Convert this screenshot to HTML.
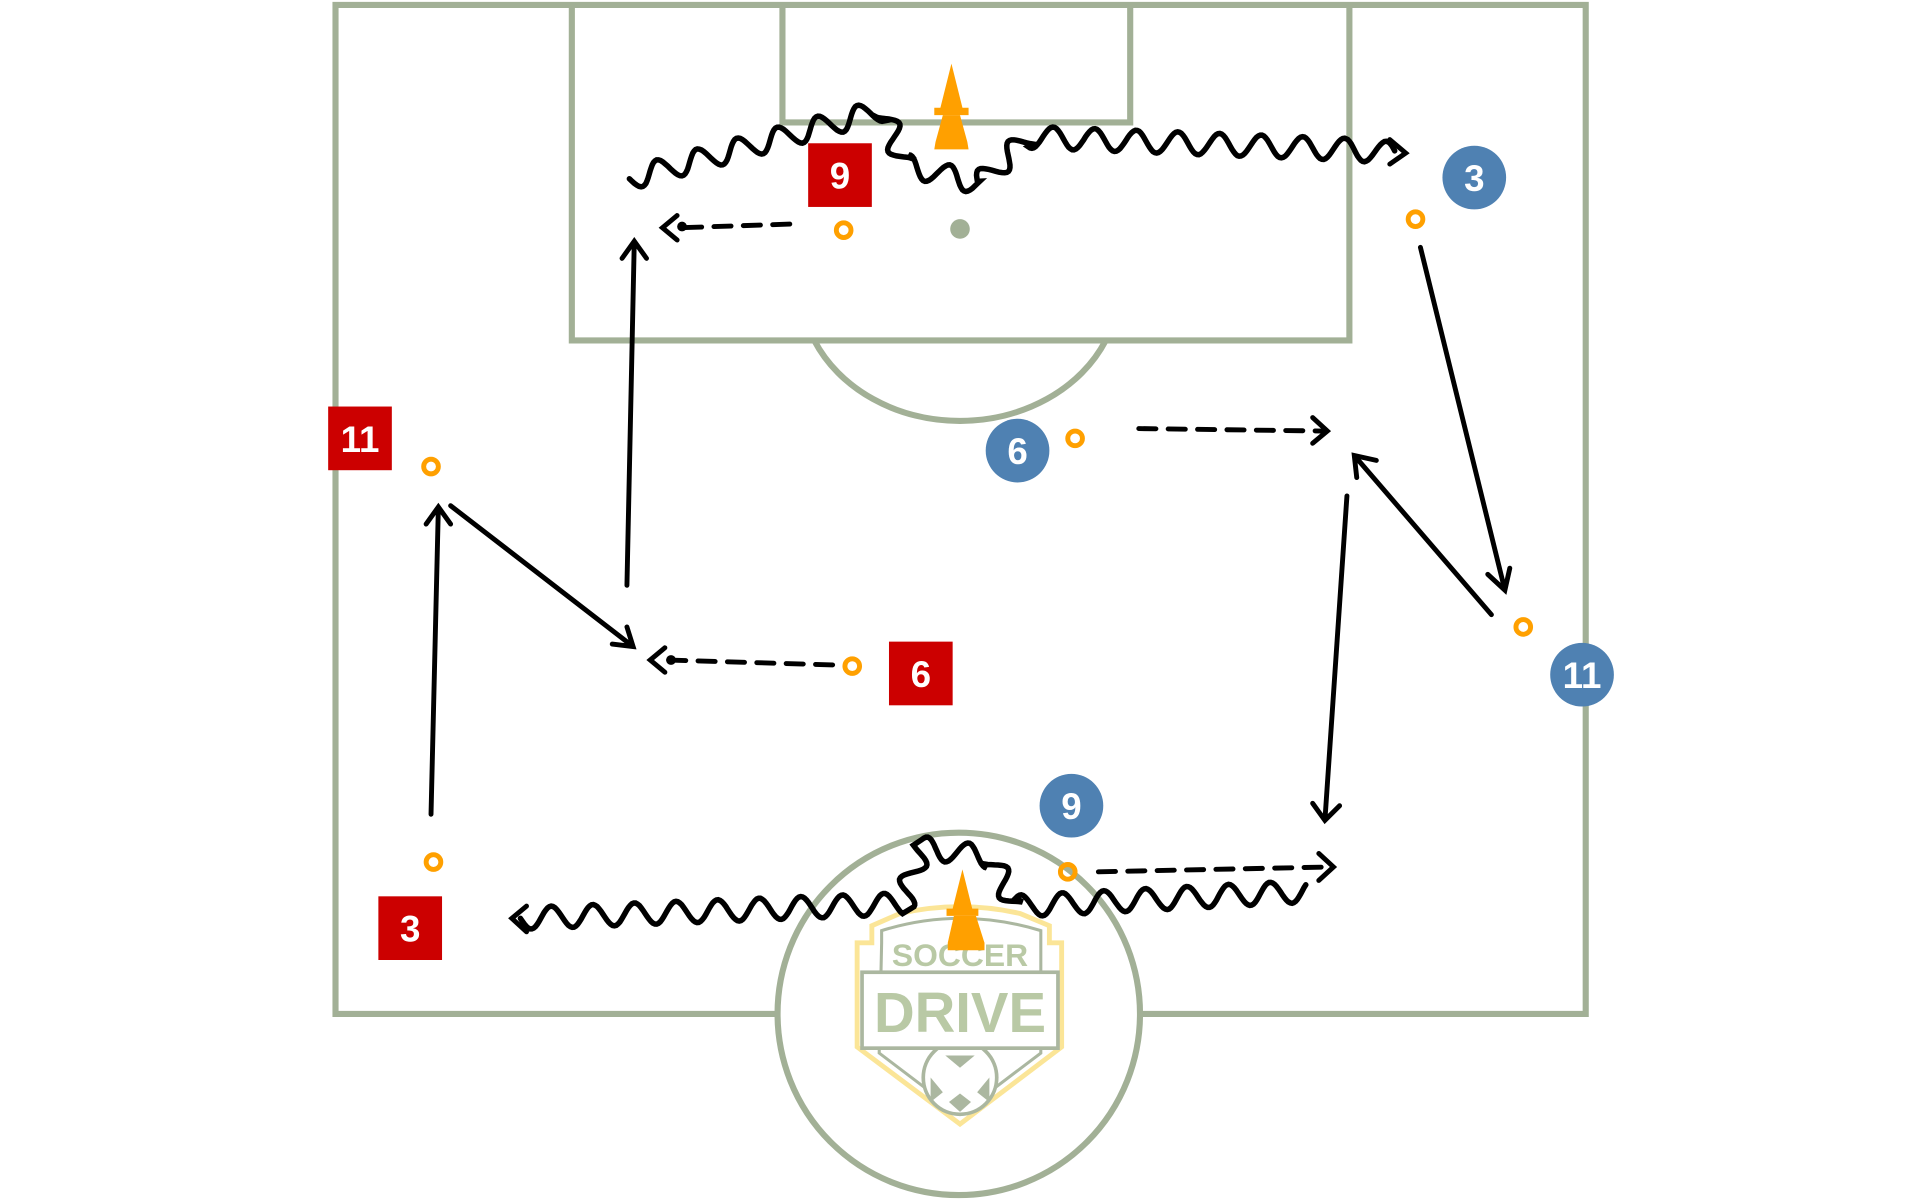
<!DOCTYPE html>
<html><head><meta charset="utf-8"><style>
html,body{margin:0;padding:0;background:#fff;width:1920px;height:1200px;overflow:hidden}
svg{display:block}
text{font-family:"Liberation Sans","DejaVu Sans",sans-serif;font-weight:bold}
</style></head><body>
<svg id="s" width="1920" height="1200" viewBox="0 0 1568 980" xmlns="http://www.w3.org/2000/svg">
<g fill="none" stroke="#a2b096" stroke-width="5">
<path d="M635 828 H274 V4 H1295 V828 H931"/>
<path d="M467 4 V278 H1102 V4"/>
<path d="M639 4 V100 H923 V4"/>
<path d="M665 278 A130 110 0 0 0 903 278"/>
<circle cx="783" cy="828" r="148"/>
</g>
<circle cx="784" cy="187" r="8" fill="#a2b096"/>
<!-- logo -->
<g opacity="0.9">
<path d="M712 770 L712 756 L735 746 Q784 735 833 746 L857 756 L857 770 L867 770 L867 855 L784 918 L700 855 L700 770 Z" fill="none" stroke="#fbe38c" stroke-width="4"/>
<path d="M720 770 L720 760 Q784 740 850 760 L850 790 L850 860 L784 910 L718 860 Z" fill="none" stroke="#a2b096" stroke-width="2.5"/>
<circle cx="784" cy="880" r="30" fill="#fff" stroke="#a2b096" stroke-width="3"/>
<path d="M772 862 L784 872 L796 862 Z M760 880 L770 892 L760 900 Z M808 880 L798 892 L808 900 Z M775 900 L784 893 L793 900 L784 908Z" fill="#a2b096"/>
<rect x="704" y="794" width="160" height="62" fill="#fff" stroke="#a2b096" stroke-width="3"/>
<text x="784" y="789" text-anchor="middle" font-size="26" fill="#b2c49c">SOCCER</text>
<text x="784" y="843" text-anchor="middle" font-size="46" fill="#b2c49c">DRIVE</text>
</g>
<g id="waves" fill="none" stroke="#000" stroke-width="4.5" stroke-linecap="round"></g>
<g fill="none" stroke="#000" stroke-width="4" stroke-linecap="round">
<path d="M1135 114 L1148 125 L1135 134"/>
<path d="M430 740 L418 750 L430 761"/>
<path d="M352 665 L358 414 M348 428 L358 414 L368 428"/>
<path d="M368 413 L517 528 M500 526 L517 528 L512 512"/>
<path d="M512 478 L518 197 M508 211 L518 197 L528 211"/>
<path d="M1160 202 L1229 482 M1215 469 L1229 482 L1233 464"/>
<path d="M1218 502 L1106 372 M1108 390 L1106 372 L1124 376"/>
<path d="M1100 405 L1082 670 M1072 656 L1082 670 L1094 658"/>
<path d="M645 183 L555 186" stroke-dasharray="14 10"/>
<path d="M553 176 L541 186 L553 196"/><circle cx="557" cy="185" r="2" fill="#000"/>
<path d="M680 543 L545 539" stroke-dasharray="14 10"/>
<path d="M543 529 L531 539 L543 549"/><circle cx="548" cy="539" r="2" fill="#000"/>
<path d="M930 350 L1080 352" stroke-dasharray="14 10"/>
<path d="M1072 341 L1084 352 L1072 362"/>
<path d="M897 712 L1087 708" stroke-dasharray="14 10"/>
<path d="M1077 697 L1089 708 L1077 719"/>
</g>
<g fill="#ffa000">
<path d="M777 52 L768 88 L763 88 L763 94 L786 94 L791 94 L791 88 L786 88 Z"/>
<path d="M770 94 L764 116 L763 122 L791 122 L790 116 L784 94Z"/>
<path d="M786 710 L778 742 L773 742 L773 748 L799 748 L799 742 L794 742 Z"/>
<path d="M779 748 L774 770 L774 776 L804 776 L804 770 L797 748Z"/>
</g>
<g fill="none" stroke="#ffa000" stroke-width="4">
<circle cx="689" cy="188" r="6"/><circle cx="352" cy="381" r="6"/><circle cx="696" cy="544" r="6"/>
<circle cx="354" cy="704" r="6"/><circle cx="1156" cy="179" r="6"/><circle cx="878" cy="358" r="6"/>
<circle cx="1244" cy="512" r="6"/><circle cx="872" cy="712" r="6"/>
</g>
<g font-size="30" text-anchor="middle" fill="#fff">
<rect x="660" y="117" width="52" height="52" fill="#cc0000"/><text x="686" y="154">9</text>
<rect x="268" y="332" width="52" height="52" fill="#cc0000"/><text x="294" y="369">11</text>
<rect x="726" y="524" width="52" height="52" fill="#cc0000"/><text x="752" y="561">6</text>
<rect x="309" y="732" width="52" height="52" fill="#cc0000"/><text x="335" y="769">3</text>
<circle cx="1204" cy="145" r="26" fill="#4f81b2"/><text x="1204" y="156">3</text>
<circle cx="831" cy="368" r="26" fill="#4f81b2"/><text x="831" y="379">6</text>
<circle cx="1292" cy="551" r="26" fill="#4f81b2"/><text x="1292" y="562">11</text>
<circle cx="875" cy="658" r="26" fill="#4f81b2"/><text x="875" y="669">9</text>
</g>
</svg>
<script>
function wave(pts,amp,wl){
 var d="",first=true,phase=0;
 for(var i=0;i<pts.length-1;i++){
  var a=pts[i],b=pts[i+1],dx=b[0]-a[0],dy=b[1]-a[1],L=Math.hypot(dx,dy),ux=dx/L,uy=dy/L,nx=-uy,ny=ux;
  for(var t=0;t<=L;t+=1.5){
   var o=amp*Math.sin(phase+t/wl*2*Math.PI);
   var x=a[0]+ux*t+nx*o,y=a[1]+uy*t+ny*o;
   d+=(first?"M":"L")+x.toFixed(1)+" "+y.toFixed(1);first=false;
  }
  phase+=L/wl*2*Math.PI;
 }
 var p=document.createElementNS("http://www.w3.org/2000/svg","path");
 p.setAttribute("d",d);document.getElementById("waves").appendChild(p);
}
wave([[514,146],[720,90],[740,135],[800,150],[840,112],[1100,122],[1140,125]],9,34);
wave([[425,750],[738,738],[752,692],[808,700],[830,740],[1068,728]],9,34);
</script>
</body></html>
